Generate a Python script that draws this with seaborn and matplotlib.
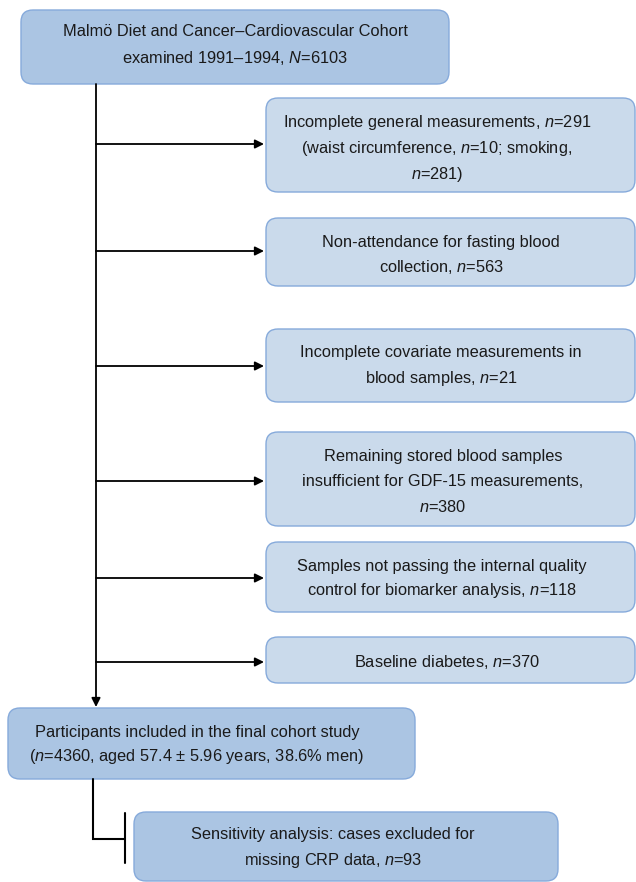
import matplotlib
matplotlib.use("Agg")
import matplotlib.pyplot as plt
from matplotlib.patches import FancyBboxPatch
import seaborn as sns

sns.set_theme(style="white")
plt.rcParams['font.family'] = ['Liberation Sans', 'DejaVu Sans']
plt.rcParams['mathtext.fontset'] = 'custom'
plt.rcParams['mathtext.rm'] = 'Liberation Sans'
plt.rcParams['mathtext.it'] = 'Liberation Sans:italic'

# ---- content ----
top_lines = ["Malmö Diet and Cancer–Cardiovascular Cohort",
             "examined 1991–1994, $\\it{N}$=6103"]
exclusion_lines = [
    ["Incomplete general measurements, $\\it{n}$=291",
     "(waist circumference, $\\it{n}$=10; smoking,",
     "$\\it{n}$=281)"],
    ["Non-attendance for fasting blood",
     "collection, $\\it{n}$=563"],
    ["Incomplete covariate measurements in",
     "blood samples, $\\it{n}$=21"],
    ["Remaining stored blood samples",
     "insufficient for GDF-15 measurements,",
     "$\\it{n}$=380"],
    ["Samples not passing the internal quality",
     "control for biomarker analysis, $\\it{n}$=118"],
    ["Baseline diabetes, $\\it{n}$=370"],
]
final_lines = ["Participants included in the final cohort study",
               "($\\it{n}$=4360, aged 57.4 ± 5.96 years, 38.6% men)"]
sens_lines = ["Sensitivity analysis: cases excluded for",
              "missing CRP data, $\\it{n}$=93"]

# ---- layout (pixel space) ----
W, H = 636, 882
main_fill = "#abc5e3"
side_fill = "#cadaeb"
edge = "#86aadb"

top_box = (21, 10, 449, 84)
final_box = (8, 708, 415, 779)
sens_box = (134, 812, 558, 881)
side_x = (266, 635)
side_y = [(98, 192), (218, 286), (329, 402), (432, 526), (542, 612), (637, 683)]
arrow_y = [144, 251, 366, 481, 578, 662]
side_text_x = [437, 441, 441, 443, 442, 447]
side_text_y = [[123, 149, 174], [242, 267], [353, 379], [457, 482, 507], [566, 591], [662]]

fig = plt.figure(figsize=(W / 100, H / 100), dpi=100)
ax = fig.add_axes([0, 0, 1, 1])
ax.set_xlim(0, W)
ax.set_ylim(H, 0)
ax.axis("off")

FS = 11.75


def box(x0, y0, x1, y1, fill):
    r = 12
    p = FancyBboxPatch((x0 + r, y0 + r), (x1 - x0) - 2 * r, (y1 - y0) - 2 * r,
                       boxstyle=f"round,pad={r},rounding_size={r}",
                       facecolor=fill, edgecolor=edge, lw=1.0, zorder=2)
    ax.add_patch(p)


def lines(x, ys, texts):
    for y, t in zip(ys, texts):
        ax.text(x, y, t, ha="center", va="center", fontsize=FS, color="#1a1a1a", zorder=3)


box(*top_box, main_fill)
lines(235, [32, 58], top_lines)

for (y0, y1), ay, tx, tys, tl in zip(side_y, arrow_y, side_text_x, side_text_y, exclusion_lines):
    box(side_x[0], y0, side_x[1], y1, side_fill)
    lines(tx, tys, tl)
    ax.annotate("", xy=(side_x[0] - 2, ay), xytext=(96, ay),
                arrowprops=dict(arrowstyle="-|>", color="black", lw=1.3,
                                mutation_scale=13, shrinkA=0, shrinkB=0), zorder=4)

# main vertical flow
ax.annotate("", xy=(96, final_box[1] - 1), xytext=(96, top_box[3]),
            arrowprops=dict(arrowstyle="-|>", color="black", lw=1.3,
                            mutation_scale=13, shrinkA=0, shrinkB=0), zorder=4)

box(*final_box, main_fill)
lines(197, [732, 757], final_lines)

# bottom connector
ax.plot([93, 93, 125], [final_box[3], 839, 839], color="black", lw=1.5, zorder=4,
        solid_joinstyle="miter")
ax.plot([125, 125], [813, 863], color="black", lw=1.5, zorder=4)

box(*sens_box, main_fill)
lines(333, [835, 860], sens_lines)

fig.savefig("out.png", dpi=100, facecolor="white")
